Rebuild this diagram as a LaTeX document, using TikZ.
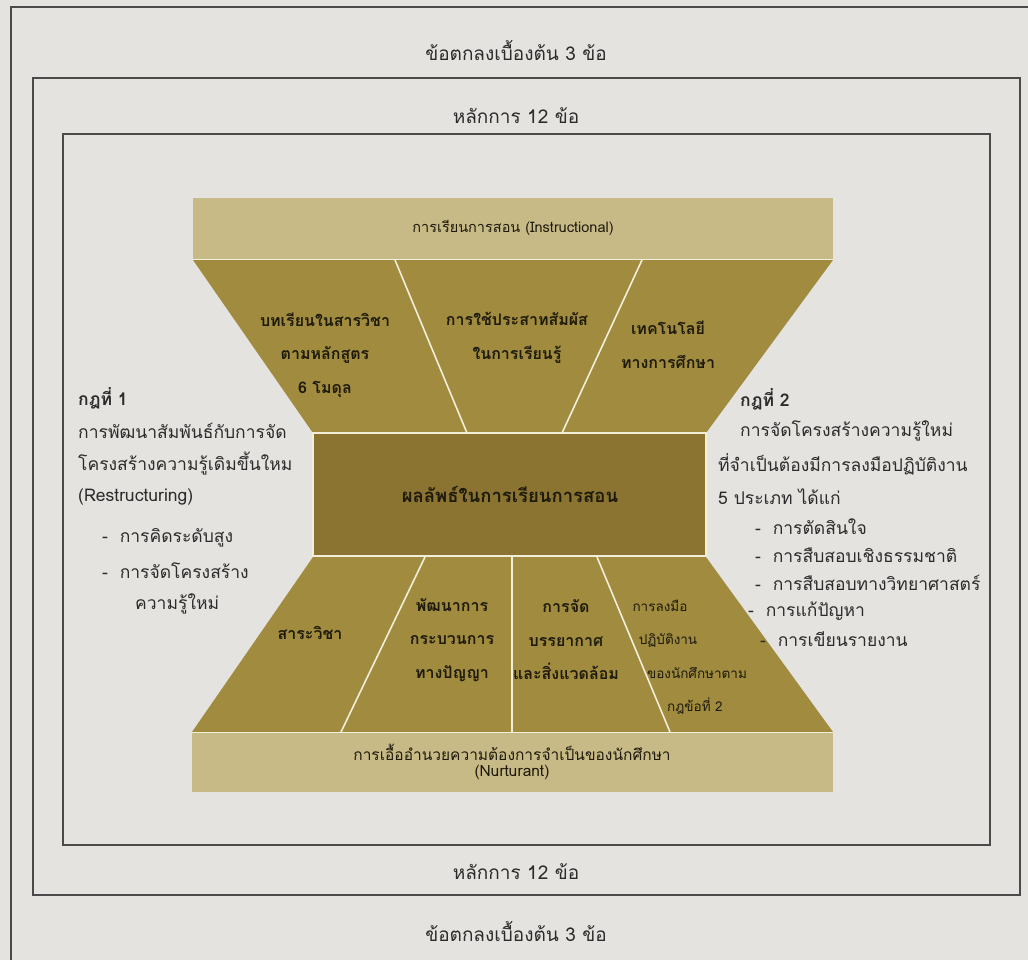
\documentclass[tikz,border=0pt]{standalone}
\usepackage{fontspec}
\setmainfont[Script=Thai]{Loma}
\definecolor{bg}{HTML}{E5E3E0}
\definecolor{band}{HTML}{C8BA86}
\definecolor{olive}{HTML}{A08B3E}
\definecolor{darkol}{HTML}{8B7431}
\definecolor{cream}{HTML}{F3EEDA}
\definecolor{framec}{HTML}{4A4A4A}
\definecolor{ink}{HTML}{2B2B2B}
\definecolor{cellink}{HTML}{1E1A0C}
\tikzset{
  framebox/.style={draw=framec, line width=1.6pt},
  lbl/.style={text=ink, font=\fontsize{19}{22}\selectfont, inner sep=0pt},
  bandtxt/.style={text=cellink, font=\fontsize{14.5}{17}\selectfont, inner sep=0pt, align=center},
  cell/.style={text=cellink, font=\bfseries\fontsize{16}{33.5}\selectfont, inner sep=0pt, align=center},
  celllight/.style={text=cellink, font=\fontsize{13.5}{16}\selectfont, inner sep=0pt},
  side/.style={text=ink, font=\fontsize{17.5}{21}\selectfont, inner sep=0pt, anchor=west},
  sidebold/.style={text=ink, font=\bfseries\fontsize{17.5}{21}\selectfont, inner sep=0pt, anchor=west},
  divider/.style={draw=cream, line width=1.6pt},
}
\begin{document}
\begin{tikzpicture}[x=1pt, y=-1pt]
\useasboundingbox (0,0) rectangle (1028,960);
\fill[bg] (0,0) rectangle (1028,960);
\begin{scope}
\clip (0,0) rectangle (1028,960);
% frames
\draw[framebox] (11,7) rectangle (1040,975);
\draw[framebox] (33,78) rectangle (1020,895);
\draw[framebox] (63,134) rectangle (990,845);
\end{scope}
\node[lbl] (t1) at (516,50) {ข้อตกลงเบื้องต้น 3 ข้อ};
\node[lbl] (t2) at (516,116) {หลักการ 12 ข้อ};
\node[lbl] (b2) at (516,872) {หลักการ 12 ข้อ};
\node[lbl] (b1) at (516,931) {ข้อตกลงเบื้องต้น 3 ข้อ};
% top band
\fill[band] (193,198) rectangle (833,259);
\node[bandtxt] (instr) at (513,228) {การเรียนการสอน (Instructional)};
% upper trapezoid
\fill[olive] (193,260) -- (833,260) -- (706,433) -- (313,433) -- cycle;
\draw[divider] (395,260) -- (467,433);
\draw[divider] (642,260) -- (562,433);
\draw[cream, line width=1pt] (193,259.5) -- (833,259.5);
% central rectangle
\fill[darkol] (313,433) rectangle (706,556);
\draw[cream, line width=1.6pt] (313,433) rectangle (706,556);
\node[text=cellink, font=\bfseries\fontsize{18.5}{21}\selectfont, inner sep=0pt] (res) at (510,494) {ผลลัพธ์ในการเรียนการสอน};
% lower trapezoid
\fill[olive] (313,557) -- (706,557) -- (833,732) -- (192,732) -- cycle;
\draw[divider] (425,557) -- (341,732);
\draw[divider] (512,557) -- (512,732);
\draw[divider] (597,557) -- (670,732);
% bottom band
\fill[band] (192,732) rectangle (833,792);
\draw[cream, line width=1pt] (192,732.5) -- (833,732.5);
\node[bandtxt, font=\fontsize{15.5}{18}\selectfont] (nurt) at (512,762) {การเอื้ออำนวยความต้องการจำเป็นของนักศึกษา\\[-2pt](Nurturant)};
% upper cells
\node[cell] (u1) at (325,355) {บทเรียนในสารวิชา\\ตามหลักสูตร\\6 โมดุล};
\node[cell] (u2) at (517,338) {การใช้ประสาทสัมผัส\\ในการเรียนรู้};
\node[cell] (u3) at (668,345) {เทคโนโลยี\\ทางการศึกษา};
% lower cells
\node[cell] (l1) at (310,633) {สาระวิชา};
\node[cell] (l2) at (452,640) {พัฒนาการ\\กระบวนการ\\ทางปัญญา};
\node[cell] (l3) at (566,640) {การจัด\\บรรยากาศ\\และสิ่งแวดล้อม};
\node[celllight] (l4a) at (660,606) {การลงมือ};
\node[celllight] (l4b) at (668,640) {ปฏิบัติงาน};
\node[celllight] (l4c) at (697,673) {ของนักศึกษาตาม};
\node[celllight] (l4d) at (695,706) {กฎข้อที่ 2};
% left rule
\node[sidebold] (r1h) at (78,398) {กฎที่ 1};
\node[side] (r1a) at (78,431) {การพัฒนาสัมพันธ์กับการจัด};
\node[side] (r1b) at (78,464) {โครงสร้างความรู้เดิมขึ้นใหม};
\node[side] (r1c) at (78,497) {(Restructuring)};
\node[side] (r1d) at (102,538) {-\ \ การคิดระดับสูง};
\node[side] (r1e) at (102,571) {-\ \ การจัดโครงสร้าง};
\node[side] (r1f) at (135,604) {ความรู้ใหม่};
% right rule
\node[sidebold] (r2h) at (740,399) {กฎที่ 2};
\node[side] (r2a) at (740,431) {การจัดโครงสร้างความรู้ใหม่};
\node[side] (r2b) at (718,464) {ที่จำเป็นต้องมีการลงมือปฏิบัติงาน};
\node[side] (r2c) at (718,497) {5 ประเภท ได้แก่};
\node[side] (r2d) at (755,527) {-\ \ การตัดสินใจ};
\node[side] (r2e) at (755,555) {-\ \ การสืบสอบเชิงธรรมชาติ};
\node[side] (r2f) at (755,583) {-\ \ การสืบสอบทางวิทยาศาสตร์};
\node[side] (r2g) at (748,611) {-\ \ การแก้ปัญหา};
\node[side] (r2h2) at (760,639) {-\ \ การเขียนรายงาน};
\end{tikzpicture}
\end{document}
